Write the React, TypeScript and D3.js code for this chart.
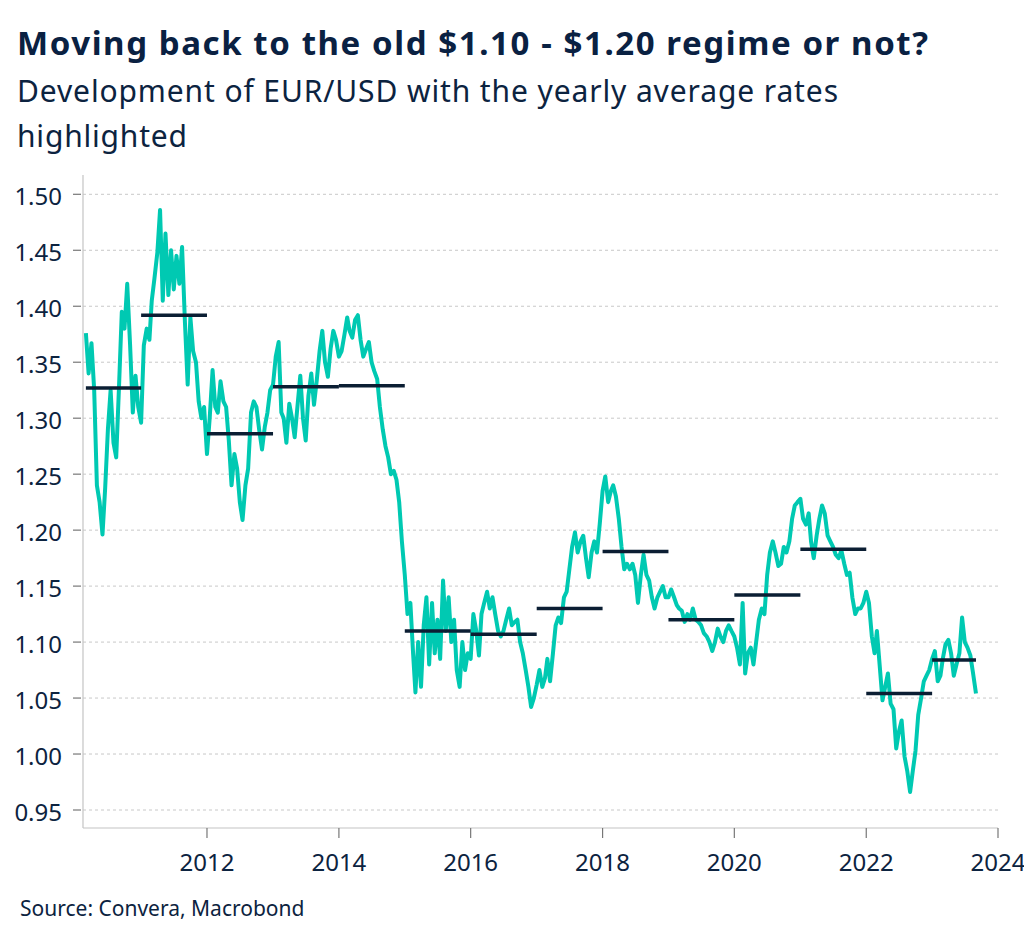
import { useRef, useEffect } from 'react';
import * as d3 from 'd3';

// EUR/USD, twice a month (1st and 16th), starting 1 March 2010
const rateStart = new Date(2010, 2, 1);
const rates: number[] = [
  // 2010 (Mar - Dec)
  1.376, 1.34, 1.367, 1.325, 1.24, 1.225, 1.196, 1.238, 1.29, 1.325,
  1.278, 1.265, 1.33, 1.395, 1.38, 1.42, 1.365, 1.305, 1.338, 1.31,
  // 2011
  1.296, 1.365, 1.38, 1.37, 1.405, 1.425, 1.448, 1.486, 1.405, 1.465, 1.41, 1.45,
  1.415, 1.445, 1.42, 1.453, 1.385, 1.33, 1.39, 1.36, 1.35, 1.315, 1.30, 1.31,
  // 2012
  1.268, 1.30, 1.343, 1.31, 1.305, 1.333, 1.315, 1.31, 1.28, 1.24, 1.268, 1.255,
  1.225, 1.209, 1.24, 1.255, 1.305, 1.315, 1.31, 1.29, 1.272, 1.292, 1.305, 1.325,
  // 2013
  1.33, 1.355, 1.368, 1.305, 1.30, 1.278, 1.313, 1.30, 1.283, 1.31, 1.338, 1.30,
  1.28, 1.32, 1.34, 1.312, 1.335, 1.36, 1.378, 1.35, 1.337, 1.362, 1.378, 1.37,
  // 2014
  1.355, 1.36, 1.375, 1.39, 1.378, 1.372, 1.388, 1.392, 1.37, 1.355, 1.362, 1.368,
  1.35, 1.342, 1.335, 1.31, 1.29, 1.275, 1.265, 1.25, 1.253, 1.245, 1.225, 1.19,
  // 2015
  1.16, 1.125, 1.135, 1.09, 1.055, 1.10, 1.06, 1.115, 1.14, 1.08, 1.135, 1.09,
  1.12, 1.085, 1.155, 1.11, 1.14, 1.10, 1.12, 1.075, 1.06, 1.10, 1.075, 1.09,
  // 2016
  1.085, 1.125, 1.11, 1.088, 1.125, 1.135, 1.145, 1.13, 1.14, 1.125, 1.11, 1.105,
  1.11, 1.12, 1.13, 1.115, 1.118, 1.12, 1.10, 1.09, 1.075, 1.06, 1.042, 1.05,
  // 2017
  1.062, 1.075, 1.06, 1.068, 1.085, 1.065, 1.09, 1.115, 1.122, 1.117, 1.14, 1.145,
  1.165, 1.185, 1.198, 1.18, 1.19, 1.195, 1.175, 1.158, 1.18, 1.19, 1.18, 1.205,
  // 2018
  1.235, 1.248, 1.225, 1.235, 1.24, 1.23, 1.21, 1.185, 1.165, 1.17, 1.165, 1.17,
  1.16, 1.135, 1.16, 1.178, 1.16, 1.155, 1.14, 1.13, 1.14, 1.145, 1.15, 1.14,
  // 2019
  1.14, 1.147, 1.14, 1.133, 1.13, 1.128, 1.118, 1.125, 1.12, 1.13, 1.12, 1.118,
  1.115, 1.108, 1.105, 1.10, 1.092, 1.10, 1.112, 1.105, 1.10, 1.11, 1.115, 1.11,
  // 2020
  1.105, 1.095, 1.08, 1.135, 1.072, 1.09, 1.095, 1.08, 1.10, 1.12, 1.13, 1.125,
  1.16, 1.18, 1.19, 1.18, 1.168, 1.17, 1.185, 1.18, 1.19, 1.21, 1.222, 1.225,
  // 2021
  1.228, 1.21, 1.205, 1.215, 1.19, 1.175, 1.195, 1.21, 1.222, 1.215, 1.195, 1.19,
  1.185, 1.178, 1.175, 1.182, 1.17, 1.16, 1.162, 1.14, 1.125, 1.13, 1.13, 1.135,
  // 2022
  1.145, 1.135, 1.105, 1.09, 1.11, 1.08, 1.048, 1.06, 1.072, 1.045, 1.04, 1.005,
  1.02, 1.03, 0.998, 0.985, 0.966, 0.985, 1.003, 1.035, 1.05, 1.065, 1.07, 1.075,
  // 2023 (Jan - Sep)
  1.085, 1.092, 1.065, 1.07, 1.085, 1.098, 1.102, 1.09, 1.07, 1.08, 1.09, 1.122,
  1.10, 1.095, 1.088, 1.072, 1.054,
];

const avgYears = [2010, 2011, 2012, 2013, 2014, 2015, 2016, 2017, 2018, 2019, 2020, 2021, 2022, 2023];
const avgRates = [1.327, 1.392, 1.286, 1.328, 1.329, 1.11, 1.107, 1.13, 1.181, 1.12, 1.142, 1.183, 1.054, 1.084];

const yTicks = [0.95, 1.0, 1.05, 1.1, 1.15, 1.2, 1.25, 1.3, 1.35, 1.4, 1.45, 1.5];
const xTickYears = [2012, 2014, 2016, 2018, 2020, 2022, 2024];

const title = 'Moving back to the old $1.10 - $1.20 regime or not?';
const subtitleLines = ['Development of EUR/USD with the yearly average rates', 'highlighted'];
const source = 'Source: Convera, Macrobond';

const W = 1024;
const H = 943;
const navy = '#0c2340';
const teal = '#00c9b2';
const font = "'Noto Sans', 'Open Sans', sans-serif";

export default function App() {
  const svgRef = useRef<SVGSVGElement | null>(null);

  useEffect(() => {
    const svg = d3.select(svgRef.current);
    svg.selectAll('*').remove();

    const left = 83;
    const right = 998;
    const top = 175;
    const bottom = 828;

    const x = d3
      .scaleTime()
      .domain([new Date(2010, 1, 13), new Date(2024, 0, 1)])
      .range([left, right]);
    const y = d3.scaleLinear().domain([0.95, 1.5]).range([810, 194.3]);

    const data = rates.map((v, i) => ({
      date: new Date(rateStart.getFullYear(), rateStart.getMonth() + Math.floor(i / 2), i % 2 ? 16 : 1),
      value: v,
    }));
    const lastDate = data[data.length - 1].date;

    // Title block
    svg
      .append('text')
      .attr('x', 17)
      .attr('y', 55)
      .attr('font-family', font)
      .attr('font-weight', 700)
      .attr('font-size', 33)
      .attr('textLength', 911)
      .attr('lengthAdjust', 'spacing')
      .attr('fill', '#0a2142')
      .text(title);

    subtitleLines.forEach((line, i) => {
      const t = svg
        .append('text')
        .attr('x', 17)
        .attr('y', 102 + i * 45)
        .attr('font-family', font)
        .attr('font-size', 30)
        .attr('fill', navy)
        .text(line);
      if (i === 0) t.attr('textLength', 821).attr('lengthAdjust', 'spacing');
      else t.attr('letter-spacing', 0.8);
    });

    // Grid
    svg
      .append('g')
      .selectAll('line')
      .data(yTicks)
      .enter()
      .append('line')
      .attr('x1', left)
      .attr('x2', right)
      .attr('y1', (d) => y(d))
      .attr('y2', (d) => y(d))
      .attr('stroke', '#c8c8c8')
      .attr('stroke-width', 1)
      .attr('stroke-dasharray', '3 3');

    // Axes lines
    svg
      .append('line')
      .attr('x1', left)
      .attr('x2', left)
      .attr('y1', top)
      .attr('y2', bottom)
      .attr('stroke', '#c4c4c4')
      .attr('stroke-width', 1.2);
    svg
      .append('line')
      .attr('x1', left)
      .attr('x2', right)
      .attr('y1', bottom)
      .attr('y2', bottom)
      .attr('stroke', '#c4c4c4')
      .attr('stroke-width', 1.2);

    // Y ticks
    const yg = svg.append('g');
    yTicks.forEach((t) => {
      yg.append('line')
        .attr('x1', left - 10)
        .attr('x2', left - 2)
        .attr('y1', y(t))
        .attr('y2', y(t))
        .attr('stroke', '#777')
        .attr('stroke-width', 1.2);
      yg.append('text')
        .attr('x', 62)
        .attr('y', y(t))
        .attr('dy', '0.45em')
        .attr('text-anchor', 'end')
        .attr('font-family', font)
        .attr('font-size', 24)
        .attr('fill', navy)
        .text(d3.format('.2f')(t));
    });

    // X ticks
    const xg = svg.append('g');
    xTickYears.forEach((yr) => {
      const px = x(new Date(yr, 0, 1));
      xg.append('line')
        .attr('x1', px)
        .attr('x2', px)
        .attr('y1', bottom)
        .attr('y2', bottom + 10)
        .attr('stroke', '#777')
        .attr('stroke-width', 1.2);
      xg.append('text')
        .attr('x', px)
        .attr('y', 871)
        .attr('text-anchor', 'middle')
        .attr('font-family', font)
        .attr('font-size', 24)
        .attr('fill', navy)
        .text(String(yr));
    });

    // Rate line
    const line = d3
      .line<{ date: Date; value: number }>()
      .x((d) => x(d.date))
      .y((d) => y(d.value));
    svg
      .append('path')
      .datum(data)
      .attr('d', line)
      .attr('fill', 'none')
      .attr('stroke', teal)
      .attr('stroke-width', 4)
      .attr('stroke-linejoin', 'round');

    // Yearly averages
    avgYears.forEach((yr, i) => {
      const start = d3.max([new Date(yr, 0, 1), data[0].date])!;
      const end = d3.min([new Date(yr + 1, 0, 1), lastDate])!;
      svg
        .append('line')
        .attr('x1', x(start))
        .attr('x2', x(end))
        .attr('y1', y(avgRates[i]))
        .attr('y2', y(avgRates[i]))
        .attr('stroke', '#0b1e33')
        .attr('stroke-width', 3.5);
    });

    // Source
    svg
      .append('text')
      .attr('x', 20)
      .attr('y', 916)
      .attr('font-family', font)
      .attr('font-size', 21)
      .attr('fill', navy)
      .text(source);
  }, []);

  return (
    <svg
      ref={svgRef}
      width={W}
      height={H}
      style={{ position: 'absolute', left: 0, top: 0, background: '#fff' }}
    />
  );
}
